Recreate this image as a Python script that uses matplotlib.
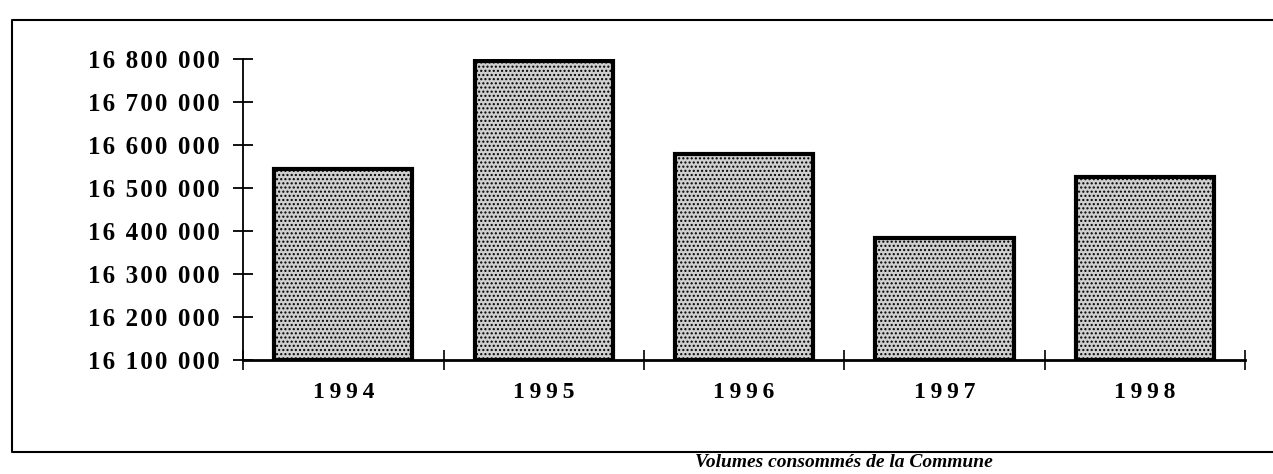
import matplotlib.pyplot as plt
from matplotlib.lines import Line2D
from matplotlib.ticker import FuncFormatter

years = ['1994', '1995', '1996', '1997', '1998']
volumes = [16545000, 16795000, 16580000, 16385000, 16525000]
y_ticks = [16100000, 16200000, 16300000, 16400000, 16500000, 16600000, 16700000, 16800000]
caption = 'Volumes consommés de la Commune'

plt.rcParams['font.family'] = ['Liberation Serif', 'DejaVu Serif']
plt.rcParams['hatch.color'] = '#555555'


def spaced(s, sep='\u200a'):
    """letter-spacing like the old printout"""
    return sep.join(s)


fig = plt.figure(figsize=(12.73, 4.74), dpi=100)
ax = fig.add_axes([0.191, 0.24, 0.787, 0.636])

x = list(range(len(years)))
ax.bar(x, [v - y_ticks[0] for v in volumes], bottom=y_ticks[0], width=0.69,
       color='#cfcfcf', edgecolor='black', linewidth=3, hatch='....')

ax.set_xlim(-0.5, len(years) - 0.5)
ax.set_ylim(y_ticks[0], y_ticks[-1])

for side in ['top', 'right']:
    ax.spines[side].set_visible(False)
ax.spines['left'].set_linewidth(1.3)
ax.spines['bottom'].set_linewidth(2)

ax.set_yticks(y_ticks)
ax.yaxis.set_major_formatter(
    FuncFormatter(lambda v, p: spaced(f'{int(v):,}'.replace(',', ' '))))
ax.tick_params(axis='y', direction='inout', length=14, width=1.3, pad=10,
               labelsize=18)
for lab in ax.get_yticklabels():
    lab.set_fontweight('bold')

ax.set_xticks(x)
ax.set_xticklabels([spaced(y, '\u2009') for y in years], fontsize=17, fontweight='bold')
ax.tick_params(axis='x', which='major', length=0, pad=16)
ax.set_xticks([i - 0.5 for i in range(len(years) + 1)], minor=True)
ax.tick_params(axis='x', which='minor', direction='inout', length=14, width=1.2)

# frame of the scanned page (right side is cut off)
W, H = 1273, 474
fx = [1.0, 12 / W, 12 / W, 1.0]
fy = [1 - 20 / H, 1 - 20 / H, 1 - 452 / H, 1 - 452 / H]
fig.lines.append(Line2D(fx, fy, transform=fig.transFigure, color='black', linewidth=1.5))

fig.text(0.663, 0.006, caption, ha='center', va='bottom', fontsize=14,
         fontweight='bold', fontstyle='italic')

fig.savefig('out.png', dpi=100)
